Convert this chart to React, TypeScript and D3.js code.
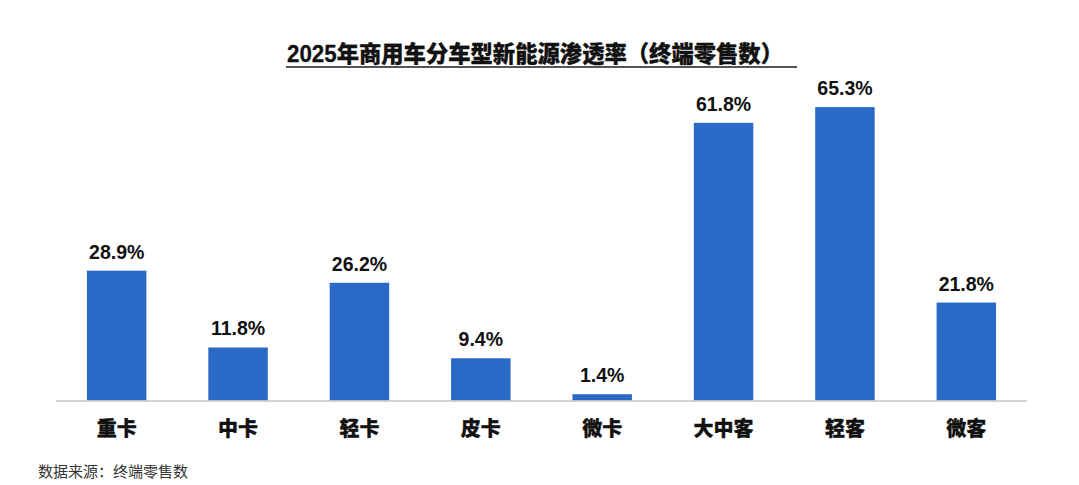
/**
 * D3 vertical bar chart: 2025 commercial vehicle NEV penetration by segment.
 */
import * as d3 from 'd3';
import { useEffect, useRef } from 'react';

const categories = ['重卡', '中卡', '轻卡', '皮卡', '微卡', '大中客', '轻客', '微客'];
const penetration = [28.9, 11.8, 26.2, 9.4, 1.4, 61.8, 65.3, 21.8];

const title = '2025年商用车分车型新能源渗透率（终端零售数）';
const source = '数据来源：终端零售数';

const FONT = '"Liberation Sans", Arial, "Noto Sans CJK SC", sans-serif';

export default function App() {
  const svgRef = useRef<SVGSVGElement>(null);

  useEffect(() => {
    if (!svgRef.current) return;

    const width = 1079;
    const height = 485;
    const margin = { left: 56, right: 52, baseline: 400.5 };

    const svg = d3.select(svgRef.current);
    svg.selectAll('*').remove();
    svg.attr('width', width).attr('height', height);

    svg.append('rect').attr('width', width).attr('height', height).attr('fill', '#fff');

    const x = d3
      .scaleBand()
      .domain(categories)
      .range([margin.left, width - margin.right])
      .paddingInner(0.51)
      .paddingOuter(0.255);

    const y = d3.scaleLinear().domain([0, 70]).range([margin.baseline, 86]);

    const data = categories.map((c, i) => ({ c, v: penetration[i] }));

    // Title + underline
    svg
      .append('text')
      .attr('x', 287)
      .attr('y', 62)
      .attr('textLength', 496)
      .attr('lengthAdjust', 'spacingAndGlyphs')
      .style('font-family', FONT)
      .style('font-size', '23px')
      .style('font-weight', 900)
      .style('fill', '#111')
      .style('stroke', '#111')
      .style('stroke-width', 0.3)
      .text(title);

    svg
      .append('line')
      .attr('x1', 286)
      .attr('x2', 797)
      .attr('y1', 67)
      .attr('y2', 67)
      .attr('stroke', '#555')
      .attr('stroke-width', 2);

    // Bars
    svg
      .selectAll('rect.bar')
      .data(data)
      .join('rect')
      .attr('class', 'bar')
      .attr('x', (d) => x(d.c) ?? 0)
      .attr('y', (d) => y(d.v))
      .attr('width', x.bandwidth())
      .attr('height', (d) => y(0) - y(d.v))
      .attr('fill', '#2a69c6');

    // Baseline
    svg
      .append('line')
      .attr('x1', margin.left)
      .attr('x2', width - margin.right)
      .attr('y1', y(0) + 0.5)
      .attr('y2', y(0) + 0.5)
      .attr('stroke', '#c4c4c4')
      .attr('stroke-width', 1.5);

    // Value labels
    svg
      .selectAll('text.val')
      .data(data)
      .join('text')
      .attr('class', 'val')
      .attr('x', (d) => (x(d.c) ?? 0) + x.bandwidth() / 2)
      .attr('y', (d) => y(d.v) - 12)
      .attr('text-anchor', 'middle')
      .style('font-family', FONT)
      .style('font-size', '19.5px')
      .style('font-weight', 700)
      .style('fill', '#111')
      .text((d) => `${d.v.toFixed(1)}%`);

    // Category labels
    svg
      .selectAll('text.cat')
      .data(data)
      .join('text')
      .attr('class', 'cat')
      .attr('x', (d) => (x(d.c) ?? 0) + x.bandwidth() / 2)
      .attr('y', 436)
      .attr('text-anchor', 'middle')
      .style('font-family', FONT)
      .style('font-size', '20px')
      .style('font-weight', 900)
      .style('fill', '#111')
      .style('stroke', '#111')
      .style('stroke-width', 0.3)
      .text((d) => d.c);

    // Source note
    svg
      .append('text')
      .attr('x', 38)
      .attr('y', 477)
      .style('font-family', FONT)
      .style('font-size', '15px')
      .style('fill', '#333')
      .text(source);
  }, []);

  return <svg ref={svgRef} style={{ position: 'absolute', left: 0, top: 0, display: 'block' }} />;
}
